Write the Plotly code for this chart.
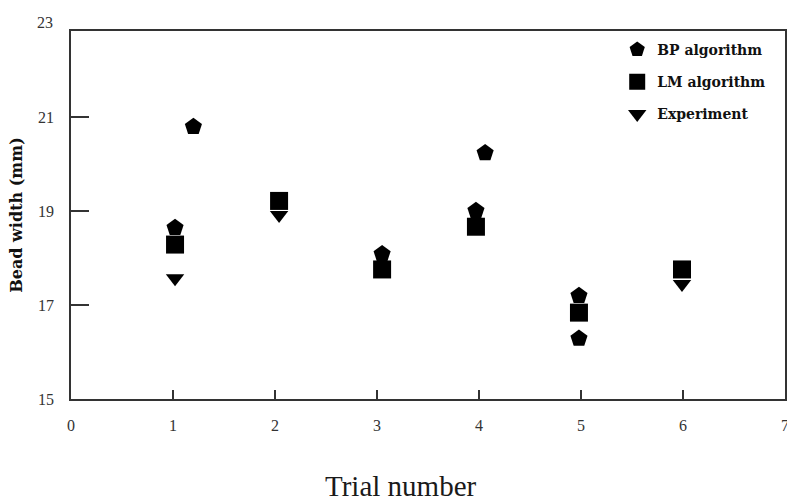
import plotly.graph_objects as go

# Data
bp_trial = [1.02, 1.20, 3.05, 3.97, 4.06, 4.98, 4.98]
bp_width = [18.65, 20.80, 18.09, 19.01, 20.24, 17.20, 16.29]

lm_trial = [1.02, 2.04, 3.05, 3.97, 4.98, 5.99]
lm_width = [18.29, 19.22, 17.76, 18.67, 16.84, 17.76]

exp_trial = [1.02, 2.04, 5.99]
exp_width = [17.57, 18.92, 17.45]

x_ticks = [0, 1, 2, 3, 4, 5, 6, 7]
y_ticks = [15, 17, 19, 21]

fig = go.Figure()
fig.add_trace(go.Scatter(x=bp_trial, y=bp_width, mode="markers", name="<b>BP algorithm</b>",
                         legendgroup="bp",
                         marker=dict(symbol="pentagon", size=18, color="black")))
fig.add_trace(go.Scatter(x=lm_trial, y=lm_width, mode="markers", name="<b>LM algorithm</b>",
                         legendgroup="lm",
                         marker=dict(symbol="square", size=18, color="black")))
fig.add_trace(go.Scatter(x=exp_trial, y=exp_width, mode="markers", name="<b>Experiment</b>",
                         legendgroup="exp",
                         marker=dict(symbol="triangle-down", size=16, color="black")))

axis_line = dict(showline=True, linecolor="#333", linewidth=1.5, mirror=True,
                 showgrid=False, zeroline=False, automargin=False)

fig.update_layout(
    width=787, height=503,
    margin=dict(l=71, r=2, t=31, b=104, autoexpand=False),
    paper_bgcolor="white", plot_bgcolor="white",
    showlegend=True,
    legend=dict(x=0.765, y=0.992, xanchor="left", yanchor="top",
                font=dict(family="DejaVu Serif", size=14, color="#111"),
                tracegroupgap=11, bgcolor="rgba(0,0,0,0)"),
    xaxis=dict(range=[0, 7], tickvals=x_ticks, ticks="inside", ticklen=9,
               tickcolor="#333", tickwidth=1.5, ticklabelstandoff=11,
               ticklabeloverflow="allow",
               tickfont=dict(family="Liberation Serif", size=16, color="#333"),
               **axis_line),
    yaxis=dict(range=[15, 22.84], tickvals=y_ticks, ticks="inside", ticklen=18,
               tickcolor="#333", tickwidth=1.5, ticklabelstandoff=12,
               tickfont=dict(family="Liberation Serif", size=16, color="#333"),
               title=dict(text="<b>Bead width (mm)</b>", standoff=11,
                          font=dict(family="DejaVu Serif", size=16, color="#111")),
               **axis_line),
    annotations=[
        dict(text="23", x=-0.022, xref="paper", y=1 + (31 - 22) / 368.5, yref="paper",
             xanchor="right", yanchor="middle", showarrow=False,
             font=dict(family="Liberation Serif", size=16, color="#333")),
        dict(text="Trial number", x=(401 - 71) / 714, xref="paper",
             y=-(487 - 399.5) / 368.5, yref="paper", xanchor="center", yanchor="middle",
             showarrow=False,
             font=dict(family="Liberation Serif", size=29, color="#1a1a1a")),
    ],
)

fig.write_html("out.html", config={"displayModeBar": False},
               post_script="document.body.style.margin='0';document.body.style.overflow='hidden';")
